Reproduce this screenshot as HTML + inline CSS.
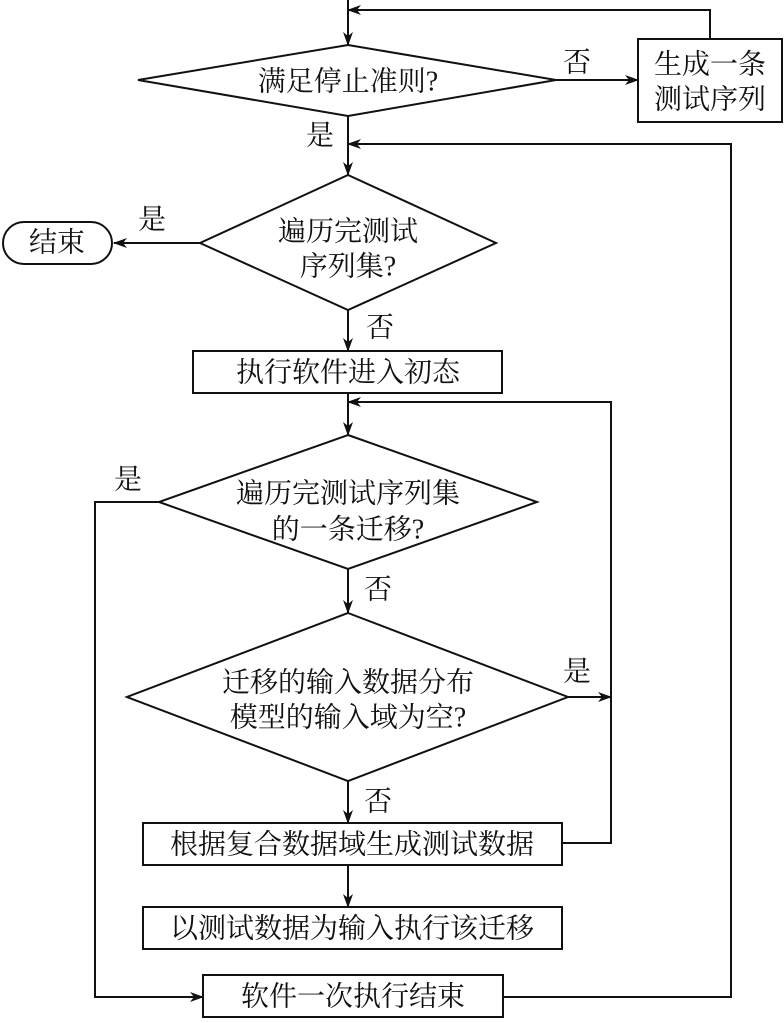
<!DOCTYPE html>
<html><head><meta charset="utf-8"><style>
html,body{margin:0;padding:0;background:#fff;}
svg text{font-family:"Liberation Serif","Noto Serif CJK SC",serif;font-size:28px;fill:#111;text-anchor:middle;dominant-baseline:central;}
</style></head><body>
<svg width="784" height="1018" viewBox="0 0 784 1018" xmlns="http://www.w3.org/2000/svg">
<defs><marker id="a" markerWidth="14" markerHeight="10" refX="13" refY="5" orient="auto" markerUnits="userSpaceOnUse"><path d="M0,0 L14,5 L0,10 L4,5 Z" fill="#111"/></marker></defs>
<g stroke="#111" stroke-width="2" fill="none">
<line x1="348" y1="0" x2="348" y2="45" marker-end="url(#a)"/>
<polyline points="710,39 710,10 348,10" marker-end="url(#a)"/>
<polygon points="348,45 556,80 348,116 138,80" fill="#fff"/>
<line x1="556" y1="80" x2="638" y2="80" marker-end="url(#a)"/>
<rect x="638" y="39" width="144" height="83" fill="#fff"/>
<line x1="348" y1="116" x2="348" y2="175" marker-end="url(#a)"/>
<polyline points="503,997 731,997 731,144 348,144" marker-end="url(#a)"/>
<polygon points="348,175 496,243 348,310 200,243" fill="#fff"/>
<line x1="200" y1="243" x2="114" y2="243" marker-end="url(#a)"/>
<rect x="3" y="222" width="109" height="42" rx="21" fill="#fff"/>
<line x1="348" y1="310" x2="348" y2="351" marker-end="url(#a)"/>
<rect x="193" y="351" width="309" height="42" fill="#fff"/>
<line x1="348" y1="393" x2="348" y2="435" marker-end="url(#a)"/>
<polyline points="562,843 611,843 611,402 348,402" marker-end="url(#a)"/>
<polygon points="348,435 537,502 348,569 159,502" fill="#fff"/>
<polyline points="159,502 95,502 95,997 203,997" marker-end="url(#a)"/>
<line x1="348" y1="569" x2="348" y2="613" marker-end="url(#a)"/>
<polygon points="348,613 568,697 348,781 127,697" fill="#fff"/>
<line x1="568" y1="697" x2="611" y2="697" marker-end="url(#a)"/>
<line x1="348" y1="781" x2="348" y2="823" marker-end="url(#a)"/>
<rect x="143" y="823" width="419" height="42" fill="#fff"/>
<line x1="348" y1="865" x2="348" y2="907" marker-end="url(#a)"/>
<rect x="143" y="907" width="419" height="42" fill="#fff"/>
<rect x="203" y="975" width="300" height="42" fill="#fff"/>
</g>
<text x="348" y="82">满足停止准则?</text>
<text x="577" y="63">否</text>
<text x="710" y="65">生成一条</text>
<text x="710" y="100">测试序列</text>
<text x="320" y="136">是</text>
<text x="348" y="232">遍历完测试</text>
<text x="348" y="267">序列集?</text>
<text x="152" y="220">是</text>
<text x="57" y="243">结束</text>
<text x="380" y="328">否</text>
<text x="348" y="373">执行软件进入初态</text>
<text x="128" y="480">是</text>
<text x="348" y="494">遍历完测试序列集</text>
<text x="348" y="530">的一条迁移?</text>
<text x="378" y="590">否</text>
<text x="348" y="683">迁移的输入数据分布</text>
<text x="348" y="718">模型的输入域为空?</text>
<text x="577" y="672">是</text>
<text x="378" y="802">否</text>
<text x="352" y="845">根据复合数据域生成测试数据</text>
<text x="352" y="929">以测试数据为输入执行该迁移</text>
<text x="353" y="997">软件一次执行结束</text>
</svg>
</body></html>
